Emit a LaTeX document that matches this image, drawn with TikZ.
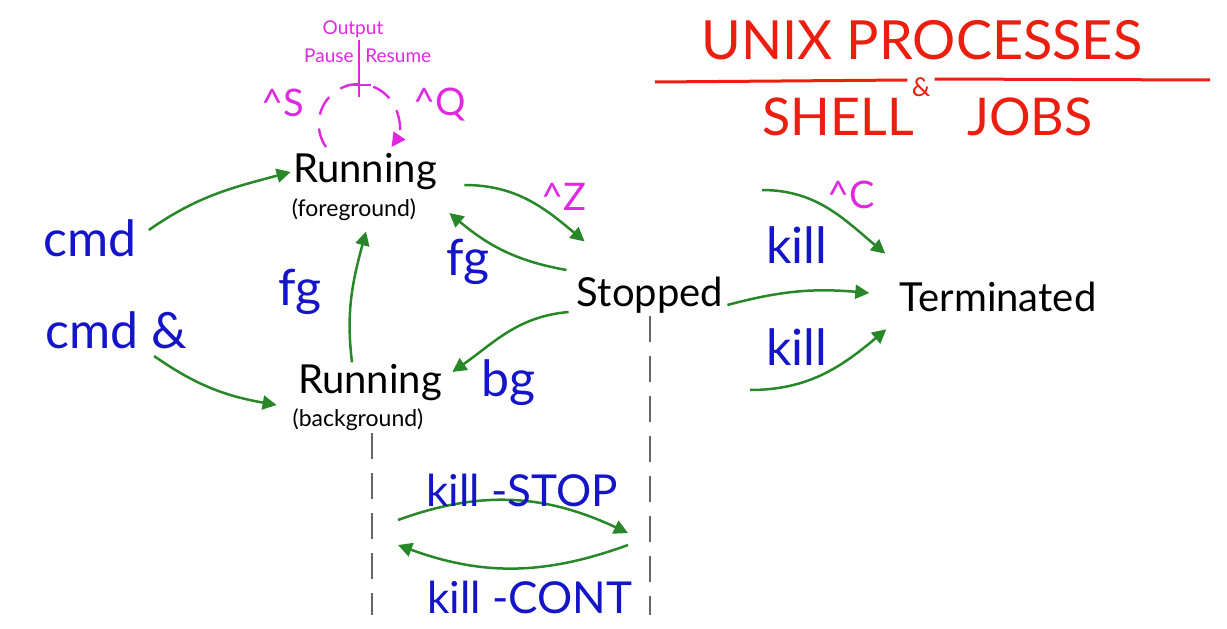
\documentclass[tikz,border=0pt]{standalone}
\usepackage{fontspec}
\setmainfont{Lato}
\usepackage{tikz}
\usetikzlibrary{arrows.meta}

\definecolor{flowgreen}{RGB}{40,135,40}
\definecolor{cmdblue}{RGB}{20,20,200}
\definecolor{keymag}{RGB}{225,40,225}
\definecolor{titlered}{RGB}{235,30,15}

\tikzset{
	state/.style={font=\fontsize{20}{24}\selectfont, inner sep=1pt},
	sub/.style={font=\fontsize{11.5}{13}\selectfont, inner sep=1pt},
	cmdtxt/.style={text=cmdblue, font=\fontsize{25}{29}\selectfont, inner sep=1pt},
	keytxt/.style={text=keymag, font=\fontsize{19}{22}\selectfont, inner sep=1pt},
	smallkey/.style={text=keymag, font=\fontsize{9.5}{11}\selectfont, inner sep=1pt},
	flow/.style={draw=flowgreen, line width=1.25pt, -{Triangle[length=7pt,width=7pt]}},
	guide/.style={draw=black!60, line width=1.2pt, dash pattern=on 13pt off 7pt},
}

\begin{document}
\begin{tikzpicture}[x=0.5pt,y=0.5pt]
	\useasboundingbox (0,0) rectangle (1227,628);

	% title
	\node[text=titlered, font=\fontsize{27}{30}\selectfont] (title) at (922,588) {UNIX PROCESSES};
	\node[text=titlered, font=\fontsize{26}{28}\selectfont] (shell) at (838,511) {SHELL};
	\node[text=titlered, font=\fontsize{26}{28}\selectfont] (jobs) at (1030,511) {JOBS};
	\node[text=titlered, font=\fontsize{13}{14}\selectfont, inner sep=2pt] (amp) at (921,541) {\&};
	\draw[titlered, line width=1.5pt] (655,546) -- (amp.west |- 0,548);
	\draw[titlered, line width=1.5pt] (amp.east |- 0,549) -- (1210,548);

	% states
	\node[state] (runfg) at (365,456) {Running};
	\node[sub] (runfgsub) at (354,418) {(foreground)};
	\node[state] (runbg) at (370,245) {Running};
	\node[sub] (runbgsub) at (358,208) {(background)};
	\node[state] (stopped) at (650,333) {Stopped};
	\node[state] (term) at (998,331) {Terminated};

	\node[cmdtxt] (cmd) at (90,390) {cmd};
	\node[cmdtxt] (cmdbg) at (116,298) {cmd \&};

	% flow control loop
	\node[smallkey] (output) at (353,599) {Output};
	\node[smallkey, anchor=east] (pause) at (356,572) {Pause};
	\node[smallkey, anchor=west] (resume) at (363,572) {Resume};
	\coordinate (tick) at (359,543);
	\draw[keymag, line width=1pt] (output.south -| tick) -- (359,531);
	\draw[keymag, line width=1pt] ([shift={(-12,0)}]tick) -- ([shift={(12,0)}]tick);
	\draw[keymag, line width=1.2pt, dash pattern=on 10pt off 7pt, -{Triangle[length=7pt,width=7pt]}]
		(326,481) arc[start angle=215, end angle=-35, radius=40];
	\node[keytxt] (ctrls) at (283,525) {\^{}S};
	\node[keytxt] (ctrlq) at (440,523) {\^{}Q};

	% transitions
	\draw[flow] (cmd.east) ++(10,8) coordinate (cmdout) (cmdout) to[out=35,in=195] (runfg.west);
	\draw[flow] (cmdbg.south east) ++(-35,-5) coordinate (cmdbgout) (cmdbgout) to[out=-35,in=170] ([shift={(-19,-22)}]runbg.west);
	\draw[flow] (runbg.north) ++(-18,0) coordinate (bgup) (bgup) to[out=97,in=-105] ([shift={(12,-8)}]runfgsub.south);
	\draw[flow] (runfg.east) ++(25,-13) coordinate (fgout) (fgout) to[out=0,in=140] ([shift={(10,33)}]stopped.north west);
	\draw[flow] (stopped.west) ++(-8,25) coordinate (stopup) (stopup) to[out=170,in=-40] ([shift={(10,-41)}]runfg.east);
	\draw[flow] (stopped.west) ++(-6,-17) coordinate (stopdn) (stopdn) to[out=185,in=35] ([shift={(8,11)}]runbg.east);
	\draw[flow] (762,438) coordinate (ctrlcin) to[out=0,in=140] ([shift={(-12,26)}]term.north west);
	\draw[flow] (stopped.east) ++(2,-10) coordinate (stopout) (stopout) to[out=15,in=175] ([shift={(-28,4)}]term.west);
	\draw[flow] (750,238) coordinate (killin) to[out=0,in=-140] ([shift={(-11,-15)}]term.south west);

	\node[cmdtxt] (fgleft) at (300,336) {fg};
	\node[keytxt] (ctrlz) at (564,431) {\^{}Z};
	\node[cmdtxt] (fgright) at (468,366) {fg};
	\node[cmdtxt] (bglbl) at (508,245) {bg};
	\node[keytxt] (ctrlc) at (851,433) {\^{}C};
	\node[cmdtxt] (killtop) at (797,383) {kill};
	\node[cmdtxt] (killbot) at (797,281) {kill};

	% job control signals
	\draw[guide] (runbgsub.south -| 372,0) -- (372,13);
	\draw[guide] (stopped.south -| 650,0) -- (650,13);
	\coordinate (bgsig) at (398,108);
	\coordinate (stopsig) at (628,95);
	\coordinate (stopcont) at (628,83);
	\coordinate (bgcont) at (398,83);
	\draw[flow] (bgsig) to[out=20,in=155] (stopsig);
	\draw[flow] (stopcont) to[out=200,in=-20] (bgcont);
	\node[cmdtxt, font=\fontsize{22}{25}\selectfont] (killstop) at (522,138) {kill -STOP};
	\node[cmdtxt, font=\fontsize{22}{25}\selectfont] (killcont) at (530,31) {kill -CONT};
\end{tikzpicture}
\end{document}
